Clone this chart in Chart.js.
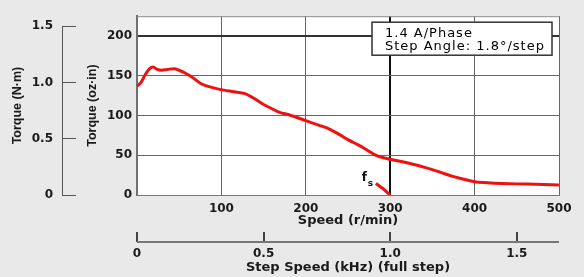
<!DOCTYPE html>
<html>
<head>
<meta charset="utf-8">
<script src="https://cdn.jsdelivr.net/npm/chart.js@4"></script>
<style>
  html, body { margin: 0; padding: 0; background: #e9e9e9; }
  canvas { display: block; }
</style>
</head>
<body>
<canvas id="torqueChart" width="584" height="277"></canvas>
<script>
// pull-out torque curve
const speedRpm = [0, 5, 10, 15, 19, 24, 29, 36, 44, 50, 57, 65, 76, 92, 103, 115, 128, 138, 149, 160, 169, 180, 200, 215, 228, 240, 251, 262, 272, 284, 300, 320, 345, 360, 373, 385, 400, 415, 432, 450, 472, 500];
const torqueOzIn = [137, 142, 152, 159, 161, 158, 157, 158, 159, 157, 153.5, 148.5, 140, 134.5, 132, 130, 127.5, 122, 114.5, 108.5, 104, 101, 93.5, 88, 83, 76, 69, 63, 57, 49.5, 45, 40.5, 33.5, 28.5, 23.7, 20.5, 16.6, 15.5, 14.6, 14, 13.6, 12.7];

// start frequency (fs) mark
const fsSpeedRpm = [283, 292, 300];
const fsTorqueOzIn = [14.5, 7.5, 0];

const rpmTicks = [0, 100, 200, 300, 400, 500];
const ozTicks = [0, 50, 100, 150, 200];
const nmTicks = [0, 0.5, 1.0, 1.5];
const khzTicks = [0, 0.5, 1.0, 1.5];
const legendLines = ["1.4 A/Phase", "Step Angle: 1.8°/step"];

const OZIN_PER_NM = 141.6119;
const RPM_PER_KHZ = 300;
const ozMax = 225;
const rpmMax = 500;

const tickFont = { family: "DejaVu Sans", size: 12, weight: "bold" };
const hTitleFont = { family: "DejaVu Sans", size: 13, weight: "bold" };
const vTitleFont = { family: "Liberation Sans", size: 12.5, weight: "bold" };
const textColor = "#1a1a1a";

const setTicks = (values) => (scale) => {
  scale.ticks = values.map((v) => ({ value: v }));
};

const plotFrame = {
  id: "plotFrame",
  beforeDraw(chart) {
    const { ctx, chartArea: a } = chart;
    ctx.save();
    ctx.fillStyle = "#ffffff";
    ctx.fillRect(a.left, a.top, a.right - a.left, a.bottom - a.top);
    ctx.restore();
  },
  beforeDatasetsDraw(chart) {
    const { ctx, chartArea: a, scales } = chart;
    ctx.save();
    ctx.strokeStyle = "#8a8a8a";
    ctx.lineWidth = 1;
    ctx.beginPath();
    ctx.moveTo(a.left, a.top + 0.5);
    ctx.lineTo(a.right, a.top + 0.5);
    ctx.stroke();

    const nm = scales.nm;
    const sx = Math.round(nm.right - nm.options.grid.tickLength);
    ctx.strokeStyle = "#555";
    ctx.beginPath();
    ctx.moveTo(sx + 0.5, nm.getPixelForValue(nmTicks[nmTicks.length - 1]));
    ctx.lineTo(sx + 0.5, nm.getPixelForValue(0));
    ctx.stroke();

    const khz = scales.khz;
    const ly = khz.top + khz.options.grid.tickLength;
    ctx.strokeStyle = "#777";
    ctx.lineWidth = 2;
    ctx.beginPath();
    ctx.moveTo(khz.getPixelForValue(0), ly);
    ctx.lineTo(a.right, ly);
    ctx.stroke();
    ctx.restore();
  },
  afterDraw(chart) {
    const { ctx, chartArea: a, scales } = chart;
    ctx.save();
    // legend box
    const bx = a.right - 187, by = a.top + 6, bw = 180, bh = 33;
    ctx.fillStyle = "#fff";
    ctx.fillRect(bx, by, bw, bh);
    ctx.strokeStyle = "#333";
    ctx.lineWidth = 1.5;
    ctx.strokeRect(bx, by, bw, bh);
    ctx.fillStyle = "#000";
    ctx.font = "500 13px 'DejaVu Sans'";
    ctx.letterSpacing = "1px";
    ctx.textBaseline = "middle";
    ctx.textAlign = "left";
    legendLines.forEach((line, i) => ctx.fillText(line, bx + 13, by + 11 + i * 13));

    // fs label
    ctx.letterSpacing = "0px";
    const fx = scales.x.getPixelForValue(271);
    const fy = scales.y.getPixelForValue(21);
    ctx.fillStyle = "#111";
    ctx.font = "bold 12px 'DejaVu Sans'";
    ctx.fillText("f", fx - 4, fy);
    ctx.font = "bold 9px 'DejaVu Sans'";
    ctx.fillText("s", fx + 2, fy + 5);
    ctx.restore();
  },
};

new Chart(document.getElementById("torqueChart"), {
  type: "line",
  data: {
    datasets: [
      {
        label: "Torque",
        data: speedRpm.map((v, i) => ({ x: v, y: torqueOzIn[i] })),
        borderColor: "#f01010",
        borderWidth: 3,
        pointRadius: 0,
        cubicInterpolationMode: "monotone",
        xAxisID: "x",
        yAxisID: "y",
      },
      {
        label: "fs",
        data: fsSpeedRpm.map((v, i) => ({ x: v, y: fsTorqueOzIn[i] })),
        borderColor: "#f01010",
        borderWidth: 3,
        pointRadius: 0,
        xAxisID: "x",
        yAxisID: "y",
      },
    ],
  },
  options: {
    responsive: false,
    animation: false,
    layout: { padding: { top: 5, right: 25, left: 0, bottom: 0 } },
    plugins: { legend: { display: false }, tooltip: { enabled: false } },
    scales: {
      x: {
        type: "linear",
        position: "bottom",
        weight: 0,
        min: 0,
        max: rpmMax,
        afterBuildTicks: setTicks(rpmTicks),
        afterFit: (s) => { s.height = 37; },
        grid: {
          drawTicks: false,
          color: (c) => (c.tick && c.tick.value === 300 ? "#111" : "#666"),
          lineWidth: (c) => (c.tick && c.tick.value === 300 ? 2 : 1),
        },
        border: { display: true, color: "#777", width: 1 },
        ticks: {
          padding: 7,
          font: tickFont,
          color: textColor,
          maxRotation: 0,
          callback: (v) => (v === 0 ? "" : String(v)),
        },
        title: { display: true, text: "Speed (r/min)", font: hTitleFont, color: textColor, padding: { top: 0, bottom: 4 } },
      },
      khz: {
        type: "linear",
        position: "bottom",
        weight: 1,
        min: 0,
        max: rpmMax / RPM_PER_KHZ,
        afterBuildTicks: setTicks(khzTicks),
        afterFit: (s) => { s.height = 45; },
        grid: { drawOnChartArea: false, tickLength: 10, color: "#444", lineWidth: 2 },
        border: { display: false },
        ticks: {
          padding: 5,
          font: tickFont,
          color: textColor,
          maxRotation: 0,
          callback: (v) => (v === 0 ? "0" : v.toFixed(1)),
        },
        title: { display: true, text: "Step Speed (kHz) (full step)", font: hTitleFont, color: textColor, padding: { top: 0, bottom: 1.5 } },
      },
      y: {
        type: "linear",
        position: "left",
        weight: 0,
        min: 0,
        max: ozMax,
        afterBuildTicks: setTicks(ozTicks),
        afterFit: (s) => { s.width = 61; },
        grid: {
          drawTicks: false,
          color: (c) => (c.tick && c.tick.value === 200 ? "#333" : "#666"),
          lineWidth: (c) => (c.tick && c.tick.value === 200 ? 2 : 1),
        },
        border: { display: true, color: "#707070", width: 2 },
        ticks: { padding: 5, font: tickFont, color: textColor },
        title: { display: true, text: "Torque (oz·in)", font: vTitleFont, color: textColor, padding: { top: 9, bottom: 0 } },
      },
      nm: {
        type: "linear",
        position: "left",
        weight: 1,
        min: 0,
        max: ozMax / OZIN_PER_NM,
        afterBuildTicks: setTicks(nmTicks),
        afterFit: (s) => { s.width = 76; },
        grid: { drawOnChartArea: false, tickLength: 14, color: "#555", lineWidth: 1 },
        border: { display: false },
        ticks: {
          padding: 9,
          font: tickFont,
          color: textColor,
          callback: (v) => (v === 0 ? "0" : v.toFixed(1)),
        },
        title: { display: true, text: "Torque (N·m)", font: vTitleFont, color: textColor, padding: { top: 10, bottom: 0 } },
      },
    },
  },
  plugins: [plotFrame],
});
</script>
</body>
</html>
